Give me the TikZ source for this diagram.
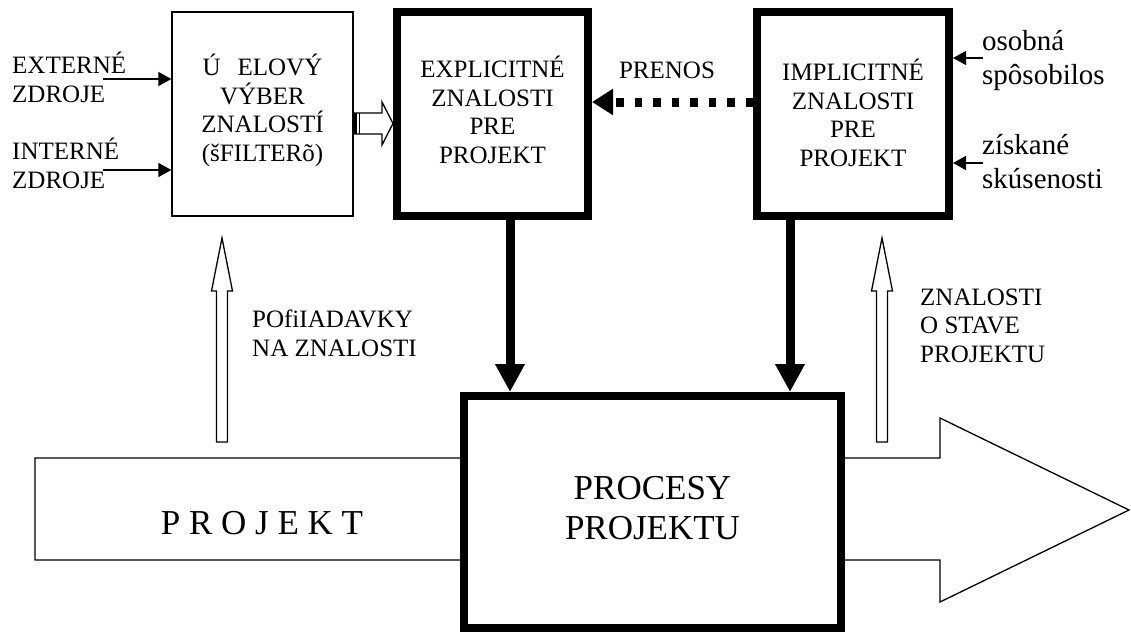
\documentclass[tikz,border=0pt]{standalone}
\usepackage{fontspec}
\setmainfont{Liberation Serif}
\usetikzlibrary{arrows.meta,calc}
\newcommand\lblfont{\fontsize{25}{28.5}\selectfont}
\newcommand\lowfont{\fontsize{29}{34}\selectfont}
\newcommand\bigfont{\fontsize{35}{40}\selectfont}
\newcommand\dep[1]{\rule[-#1]{0pt}{#1}}
\begin{document}
\begin{tikzpicture}[x=1pt,y=-1pt,
  thinbox/.style={draw, line width=1.3pt, fill=white, inner sep=0pt, align=center, font=\lblfont},
  thickbox/.style={draw, line width=8pt, fill=white, inner sep=0pt, align=center, font=\lblfont},
  lbl/.style={inner sep=0pt, font=\lblfont},
  lowlbl/.style={inner sep=0pt, font=\lowfont, align=left},
  thickarrow/.style={line width=9pt, -{Triangle[length=28pt,width=28pt]}},
  dotarrow/.style={line width=9pt, dash pattern=on 7.5pt off 11pt, -{Triangle[length=21pt,width=25pt]}},
  inarrow/.style={line width=1.3pt, -{Triangle[length=13pt,width=14pt]}},
  hollow/.style={draw, line width=1.3pt, fill=white, line join=miter}
]
\useasboundingbox (0,0) rectangle (1131,632);

% project band with output arrow
\draw[hollow] (35,458) -- (940,458) -- (940,418) -- (1129,510) -- (940,602) -- (940,560) -- (35,560) -- cycle;
\node[inner sep=0pt, font=\bigfont, anchor=base] (projekt) at (262,534) {P R O J E K T};

% process box
\node[thickbox, font=\bigfont, minimum width=377pt, minimum height=232pt] (proc) at (652.5,512) {PROCESY\\PROJEKTU\dep{8pt}};

% top boxes
\node[thinbox, minimum width=181pt, minimum height=204pt] (filter) at (262.5,114) {Ú\hspace{17pt}ELOVÝ\\VÝBER\\ZNALOSTÍ\\(šFILTERõ)\dep{12pt}};
\node[thickbox, minimum width=191pt, minimum height=204pt] (expl) at (492.5,114) {EXPLICITNÉ\\ZNALOSTI\\PRE\\PROJEKT\dep{8pt}};
\node[thickbox, minimum width=192pt, minimum height=204pt] (impl) at (853,114) {IMPLICITNÉ\\ZNALOSTI\\PRE\\PROJEKT\dep{2pt}};

% thick arrows down
\draw[thickarrow] ([xshift=17.5pt]expl.south) -- ([xshift=17.5pt]expl.south |- proc.north);
\draw[thickarrow] ([xshift=-63pt]impl.south) -- ([xshift=-63pt]impl.south |- proc.north);

% transfer
\draw[dotarrow] ([yshift=12pt]impl.west) -- ([yshift=12pt]expl.east);
\node[lbl, anchor=base] (prenos) at (667,78) {PRENOS};

% filter -> explicit hollow arrow
\draw[hollow] (353,113) -- (382,113) -- (382,102) -- (393,123.5) -- (382,145) -- (382,134) -- (353,134) -- cycle;
\fill (353,113) rectangle (357,134);
\draw[line width=1pt] (359.5,113) -- (359.5,134);

% inputs to filter
\coordinate (extS) at (103,79);
\coordinate (intS) at (103,170);
\draw[inarrow] (extS) -- (extS -| filter.west);
\draw[inarrow] (intS) -- (intS -| filter.west);
\node[lbl, anchor=base west, align=left] (ext) at (12,102) {EXTERNÉ\\ZDROJE};
\node[lbl, anchor=base west, align=left] (int) at (12,188) {INTERNÉ\\ZDROJE};

% inputs to implicit
\coordinate (osS) at (983,58);
\coordinate (ziS) at (983,163);
\draw[inarrow] (osS) -- (osS -| impl.east);
\draw[inarrow] (ziS) -- (ziS -| impl.east);
\node[lowlbl, anchor=base west] (os) at (982,84) {osobná\\spôsobilos};
\node[lowlbl, anchor=base west] (zi) at (982,188) {získané\\skúsenosti};

% hollow up arrows
\draw[hollow] (216.5,442) -- (216.5,291) -- (211.5,291) -- (222,238) -- (232.5,291) -- (227.5,291) -- (227.5,442) -- cycle;
\draw[hollow] (876.5,442) -- (876.5,291) -- (871.5,291) -- (882,238) -- (892.5,291) -- (887.5,291) -- (887.5,442) -- cycle;
\node[lbl, anchor=base west, align=left] (poz) at (252,356) {POfiIADAVKY\\NA ZNALOSTI};
\node[lbl, anchor=base west, align=left] (stav) at (920,362) {ZNALOSTI\\O STAVE\\PROJEKTU};
\end{tikzpicture}
\end{document}
